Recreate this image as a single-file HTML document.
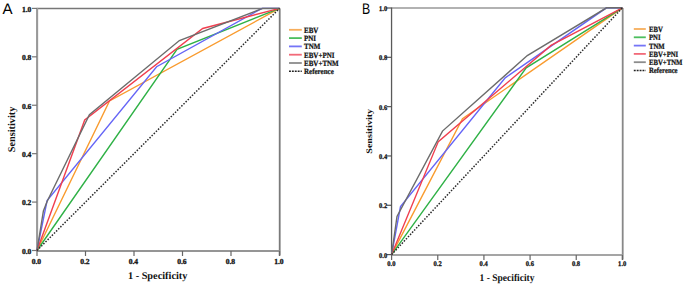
<!DOCTYPE html>
<html><head><meta charset="utf-8"><title>ROC curves</title>
<style>
html,body{margin:0;padding:0;background:#fff;}
body{width:685px;height:286px;overflow:hidden;}
svg{display:block;text-rendering:geometricPrecision;}
.tl{font-family:"Liberation Serif",serif;font-weight:bold;font-size:8px;fill:#111;stroke:#111;stroke-width:0.3px;}
.ti{font-family:"Liberation Serif",serif;font-weight:bold;font-size:10px;fill:#111;}
.lg{font-family:"Liberation Serif",serif;font-weight:bold;font-size:7px;fill:#111;stroke:#111;stroke-width:0.2px;}
.pl{font-family:"Liberation Sans",sans-serif;font-size:15.4px;fill:#000;}
</style></head><body>
<svg width="685" height="286" viewBox="0 0 685 286">
<text transform="translate(2.6,13.6) scale(0.98,1)" class="pl">A</text>
<text transform="translate(361.9,13.6) scale(0.8,1)" class="pl">B</text>
<line x1="37" y1="8.5" x2="279.5" y2="8.5" stroke="#777" stroke-width="1.4"/>
<line x1="279.7" y1="8.4" x2="279.7" y2="255.5" stroke="#7a7a7a" stroke-width="1.8"/>
<line x1="37.1" y1="7.9" x2="37.1" y2="251.3" stroke="#999" stroke-width="2.1"/>
<line x1="37" y1="251.0" x2="279.5" y2="251.0" stroke="#959595" stroke-width="2"/>
<line x1="32.0" y1="250.50" x2="37" y2="250.50" stroke="#777" stroke-width="1.2"/>
<line x1="37.00" y1="251.0" x2="37.00" y2="256.0" stroke="#666" stroke-width="1.2"/>
<text transform="translate(31.40,253.90)" text-anchor="end" class="tl" style="font-size:7.6px">0.0</text>
<text transform="translate(36.40,263.80)" text-anchor="middle" class="tl" style="font-size:7.6px">0.0</text>
<line x1="32.0" y1="202.08" x2="37" y2="202.08" stroke="#777" stroke-width="1.2"/>
<line x1="85.50" y1="251.0" x2="85.50" y2="256.0" stroke="#666" stroke-width="1.2"/>
<text transform="translate(31.40,205.48)" text-anchor="end" class="tl" style="font-size:7.6px">0.2</text>
<text transform="translate(84.90,263.80)" text-anchor="middle" class="tl" style="font-size:7.6px">0.2</text>
<line x1="32.0" y1="153.66" x2="37" y2="153.66" stroke="#777" stroke-width="1.2"/>
<line x1="134.00" y1="251.0" x2="134.00" y2="256.0" stroke="#666" stroke-width="1.2"/>
<text transform="translate(31.40,157.06)" text-anchor="end" class="tl" style="font-size:7.6px">0.4</text>
<text transform="translate(133.40,263.80)" text-anchor="middle" class="tl" style="font-size:7.6px">0.4</text>
<line x1="32.0" y1="105.24" x2="37" y2="105.24" stroke="#777" stroke-width="1.2"/>
<line x1="182.50" y1="251.0" x2="182.50" y2="256.0" stroke="#666" stroke-width="1.2"/>
<text transform="translate(31.40,108.64)" text-anchor="end" class="tl" style="font-size:7.6px">0.6</text>
<text transform="translate(181.90,263.80)" text-anchor="middle" class="tl" style="font-size:7.6px">0.6</text>
<line x1="32.0" y1="56.82" x2="37" y2="56.82" stroke="#777" stroke-width="1.2"/>
<line x1="231.00" y1="251.0" x2="231.00" y2="256.0" stroke="#666" stroke-width="1.2"/>
<text transform="translate(31.40,60.22)" text-anchor="end" class="tl" style="font-size:7.6px">0.8</text>
<text transform="translate(230.40,263.80)" text-anchor="middle" class="tl" style="font-size:7.6px">0.8</text>
<line x1="32.0" y1="8.40" x2="37" y2="8.40" stroke="#777" stroke-width="1.2"/>
<line x1="279.50" y1="251.0" x2="279.50" y2="256.0" stroke="#666" stroke-width="1.2"/>
<text transform="translate(31.40,11.80)" text-anchor="end" class="tl" style="font-size:7.6px">1.0</text>
<text transform="translate(278.90,263.80)" text-anchor="middle" class="tl" style="font-size:7.6px">1.0</text>
<text transform="translate(157.65,279.00)" text-anchor="middle" class="ti" style="font-size:10.3px">1 - Specificity</text>
<text transform="translate(15.20,129.45) rotate(-90)" text-anchor="middle" class="ti" style="font-size:10.3px">Sensitivity</text>
<polyline points="37.00,250.50 109.50,100.90 279.50,8.40" fill="none" stroke="#f99b2e" stroke-width="1.4" stroke-linejoin="miter"/>
<polyline points="37.00,250.50 177.00,49.40 279.50,8.40" fill="none" stroke="#2fb146" stroke-width="1.4" stroke-linejoin="miter"/>
<polyline points="37.00,250.50 47.10,200.50 156.60,66.70 262.00,8.40 279.50,8.40" fill="none" stroke="#6565f6" stroke-width="1.4" stroke-linejoin="miter"/>
<polyline points="37.00,250.50 84.70,120.00 202.70,28.50 279.50,8.40" fill="none" stroke="#f03f4f" stroke-width="1.4" stroke-linejoin="miter"/>
<polyline points="37.00,250.50 43.40,211.00 47.10,201.50 89.40,114.70 179.40,40.50 262.60,8.40 279.50,8.40" fill="none" stroke="#6c6c6c" stroke-width="1.4" stroke-linejoin="miter"/>
<line x1="37" y1="250.5" x2="279.5" y2="8.4" stroke="#2a2a2a" stroke-width="1.5" stroke-dasharray="1.5 1.5"/>
<line x1="289" y1="29.80" x2="301.8" y2="29.80" stroke="#f7ae5c" stroke-width="1.8"/>
<text transform="translate(304.00,32.75) scale(1,1.15)" class="lg">EBV</text>
<line x1="289" y1="38.10" x2="301.8" y2="38.10" stroke="#4cbf5e" stroke-width="1.8"/>
<text transform="translate(304.00,41.05) scale(1,1.15)" class="lg">PNI</text>
<line x1="289" y1="46.40" x2="301.8" y2="46.40" stroke="#7575f7" stroke-width="1.8"/>
<text transform="translate(304.00,49.35) scale(1,1.15)" class="lg">TNM</text>
<line x1="289" y1="54.70" x2="301.8" y2="54.70" stroke="#f26a79" stroke-width="1.8"/>
<text transform="translate(304.00,57.65) scale(1,1.15)" class="lg">EBV+PNI</text>
<line x1="289" y1="63.00" x2="301.8" y2="63.00" stroke="#8c8c8c" stroke-width="1.8"/>
<text transform="translate(304.00,65.95) scale(1,1.15)" class="lg">EBV+TNM</text>
<line x1="289" y1="71.30" x2="301.8" y2="71.30" stroke="#222" stroke-width="1.4" stroke-dasharray="1.9 1"/>
<text transform="translate(304.00,74.25) scale(1,1.15)" class="lg">Reference</text>
<line x1="391.6" y1="8.0" x2="622.4" y2="8.0" stroke="#999" stroke-width="1.7"/>
<line x1="622.7" y1="8.0" x2="622.7" y2="259.6" stroke="#888" stroke-width="1.8"/>
<line x1="391.55" y1="7.5" x2="391.55" y2="255.4" stroke="#5a5a5a" stroke-width="1.3"/>
<line x1="391.6" y1="255.0" x2="622.4" y2="255.0" stroke="#a5a5a5" stroke-width="2"/>
<line x1="386.6" y1="254.60" x2="391.6" y2="254.60" stroke="#555" stroke-width="1.2"/>
<line x1="391.60" y1="255.0" x2="391.60" y2="260.0" stroke="#666" stroke-width="1.2"/>
<text transform="translate(387.10,257.70) scale(0.8,0.9)" text-anchor="end" class="tl" style="font-size:8px">0.0</text>
<text transform="translate(391.40,266.10) scale(0.82,0.89)" text-anchor="middle" class="tl" style="font-size:8px">0.0</text>
<line x1="386.6" y1="205.28" x2="391.6" y2="205.28" stroke="#555" stroke-width="1.2"/>
<line x1="437.76" y1="255.0" x2="437.76" y2="260.0" stroke="#666" stroke-width="1.2"/>
<text transform="translate(387.10,208.38) scale(0.8,0.9)" text-anchor="end" class="tl" style="font-size:8px">0.2</text>
<text transform="translate(437.56,266.10) scale(0.82,0.89)" text-anchor="middle" class="tl" style="font-size:8px">0.2</text>
<line x1="386.6" y1="155.96" x2="391.6" y2="155.96" stroke="#555" stroke-width="1.2"/>
<line x1="483.92" y1="255.0" x2="483.92" y2="260.0" stroke="#666" stroke-width="1.2"/>
<text transform="translate(387.10,159.06) scale(0.8,0.9)" text-anchor="end" class="tl" style="font-size:8px">0.4</text>
<text transform="translate(483.72,266.10) scale(0.82,0.89)" text-anchor="middle" class="tl" style="font-size:8px">0.4</text>
<line x1="386.6" y1="106.64" x2="391.6" y2="106.64" stroke="#555" stroke-width="1.2"/>
<line x1="530.08" y1="255.0" x2="530.08" y2="260.0" stroke="#666" stroke-width="1.2"/>
<text transform="translate(387.10,109.74) scale(0.8,0.9)" text-anchor="end" class="tl" style="font-size:8px">0.6</text>
<text transform="translate(529.88,266.10) scale(0.82,0.89)" text-anchor="middle" class="tl" style="font-size:8px">0.6</text>
<line x1="386.6" y1="57.32" x2="391.6" y2="57.32" stroke="#555" stroke-width="1.2"/>
<line x1="576.24" y1="255.0" x2="576.24" y2="260.0" stroke="#666" stroke-width="1.2"/>
<text transform="translate(387.10,60.42) scale(0.8,0.9)" text-anchor="end" class="tl" style="font-size:8px">0.8</text>
<text transform="translate(576.04,266.10) scale(0.82,0.89)" text-anchor="middle" class="tl" style="font-size:8px">0.8</text>
<line x1="386.6" y1="8.00" x2="391.6" y2="8.00" stroke="#555" stroke-width="1.2"/>
<line x1="622.40" y1="255.0" x2="622.40" y2="260.0" stroke="#666" stroke-width="1.2"/>
<text transform="translate(387.10,11.10) scale(0.8,0.9)" text-anchor="end" class="tl" style="font-size:8px">1.0</text>
<text transform="translate(622.20,266.10) scale(0.82,0.89)" text-anchor="middle" class="tl" style="font-size:8px">1.0</text>
<text transform="translate(507.00,281.20) scale(0.952,1.017)" text-anchor="middle" class="ti" style="font-size:10px">1 - Specificity</text>
<text transform="translate(372.40,131.30) scale(0.85,1.01) rotate(-90)" text-anchor="middle" class="ti" style="font-size:10px">Sensitivity</text>
<polyline points="391.60,254.60 462.50,118.70 622.40,7.80" fill="none" stroke="#f99b2e" stroke-width="1.4" stroke-linejoin="miter"/>
<polyline points="391.60,254.60 526.20,67.80 622.40,7.80" fill="none" stroke="#2fb146" stroke-width="1.4" stroke-linejoin="miter"/>
<polyline points="391.60,254.60 400.50,206.50 505.20,77.80 606.40,7.80 622.40,7.80" fill="none" stroke="#6565f6" stroke-width="1.4" stroke-linejoin="miter"/>
<polyline points="391.60,254.60 438.30,141.60 551.00,45.40 622.40,7.80" fill="none" stroke="#f03f4f" stroke-width="1.4" stroke-linejoin="miter"/>
<polyline points="391.60,254.60 397.00,216.40 442.50,131.10 527.30,55.60 606.60,7.80 622.40,7.80" fill="none" stroke="#6c6c6c" stroke-width="1.4" stroke-linejoin="miter"/>
<line x1="391.6" y1="254.6" x2="622.4" y2="7.8" stroke="#2a2a2a" stroke-width="1.5" stroke-dasharray="1.5 1.5"/>
<line x1="633.8" y1="29.00" x2="645.8" y2="29.00" stroke="#f7ae5c" stroke-width="1.8"/>
<text transform="translate(649.00,31.95) scale(0.96,1.15)" class="lg">EBV</text>
<line x1="633.8" y1="37.30" x2="645.8" y2="37.30" stroke="#4cbf5e" stroke-width="1.8"/>
<text transform="translate(649.00,40.25) scale(0.96,1.15)" class="lg">PNI</text>
<line x1="633.8" y1="45.60" x2="645.8" y2="45.60" stroke="#7575f7" stroke-width="1.8"/>
<text transform="translate(649.00,48.55) scale(0.96,1.15)" class="lg">TNM</text>
<line x1="633.8" y1="53.90" x2="645.8" y2="53.90" stroke="#f26a79" stroke-width="1.8"/>
<text transform="translate(649.00,56.85) scale(0.96,1.15)" class="lg">EBV+PNI</text>
<line x1="633.8" y1="62.20" x2="645.8" y2="62.20" stroke="#8c8c8c" stroke-width="1.8"/>
<text transform="translate(649.00,65.15) scale(0.96,1.15)" class="lg">EBV+TNM</text>
<line x1="633.8" y1="70.50" x2="645.8" y2="70.50" stroke="#222" stroke-width="1.4" stroke-dasharray="1.9 1"/>
<text transform="translate(649.00,73.45) scale(0.96,1.15)" class="lg">Reference</text>
</svg>
</body></html>
